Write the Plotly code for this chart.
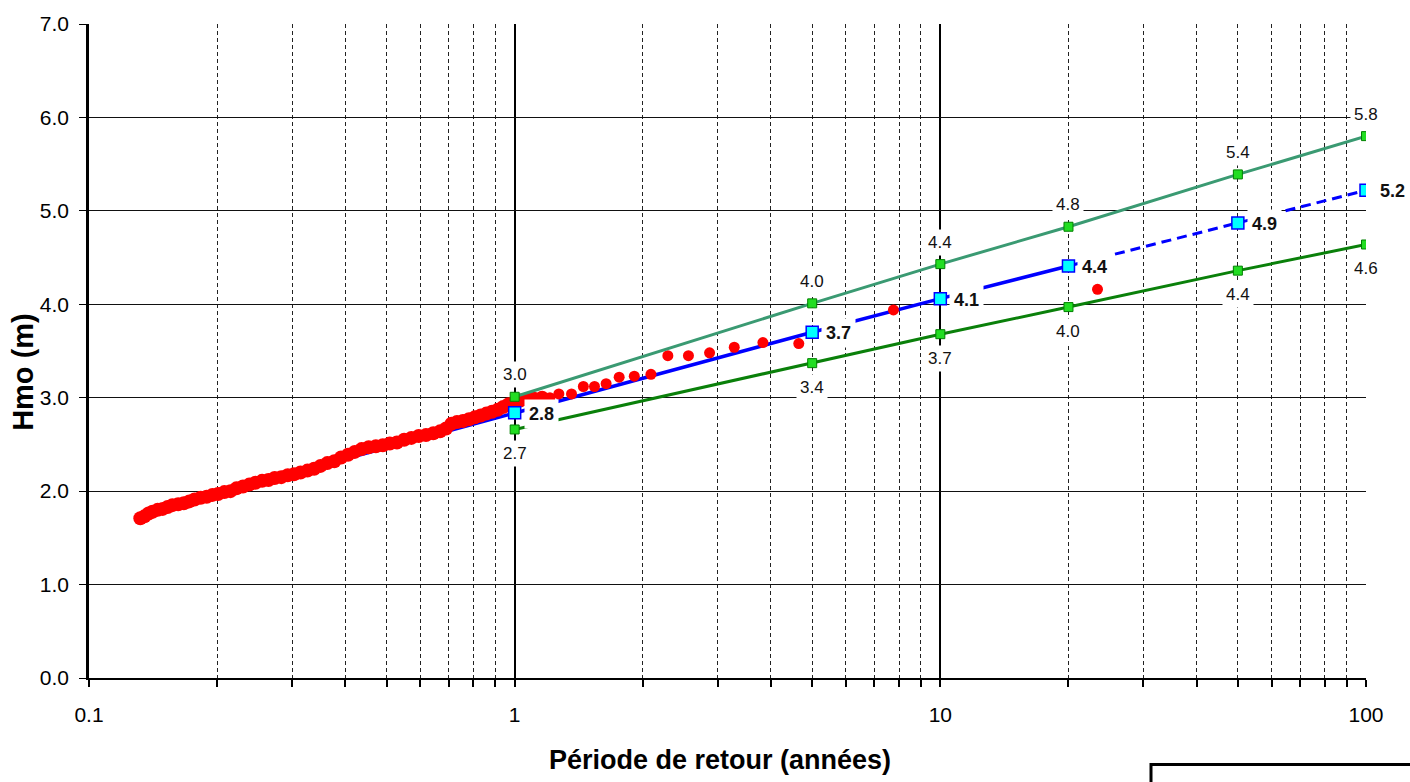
import math
import plotly.graph_objects as go

# ---- data ----
# empirical return periods (years) and observed Hmo (m)
obs_T = [0.132, 0.135, 0.138, 0.141, 0.145, 0.149, 0.153, 0.157, 0.162, 0.167,
         0.172, 0.177, 0.183, 0.189, 0.195, 0.201, 0.208, 0.215, 0.222, 0.230,
         0.238, 0.246, 0.255, 0.264, 0.273, 0.283, 0.293, 0.303, 0.314, 0.326,
         0.338, 0.350, 0.363, 0.377, 0.391, 0.406, 0.421, 0.437, 0.454, 0.472,
         0.490, 0.509, 0.529, 0.550, 0.572, 0.595, 0.619, 0.644, 0.668, 0.690,
         0.710, 0.732, 0.756, 0.781, 0.806, 0.832, 0.858, 0.885, 0.912, 0.940,
         0.968, 0.997, 1.03, 1.07, 1.11, 1.16]
obs_H = [1.71, 1.73, 1.76, 1.78, 1.80, 1.81, 1.83, 1.85, 1.86, 1.87,
         1.89, 1.91, 1.93, 1.94, 1.96, 1.97, 1.99, 2.00, 2.03, 2.05,
         2.07, 2.09, 2.11, 2.12, 2.14, 2.15, 2.17, 2.18, 2.20, 2.22,
         2.24, 2.27, 2.30, 2.32, 2.36, 2.39, 2.42, 2.45, 2.47, 2.48,
         2.49, 2.51, 2.52, 2.55, 2.57, 2.59, 2.60, 2.62, 2.64, 2.67,
         2.72, 2.74, 2.75, 2.77, 2.79, 2.81, 2.83, 2.85, 2.87, 2.90,
         2.93, 2.95, 2.97, 2.98, 2.99, 3.00]
# sparse largest observations
obs_T_top = [1.21, 1.27, 1.36, 1.45, 1.54, 1.64, 1.76, 1.91, 2.09, 2.29,
             2.56, 2.87, 3.28, 3.83, 4.65, 7.76, 23.4]
obs_H_top = [3.00, 3.04, 3.04, 3.12, 3.12, 3.15, 3.22, 3.23, 3.25, 3.45,
             3.45, 3.48, 3.54, 3.59, 3.58, 3.94, 4.16]

# fitted return levels
ret_T = [1, 5, 10, 20, 50, 100]
fit_H = [2.84, 3.70, 4.06, 4.41, 4.87, 5.22]
upper_H = [3.01, 4.01, 4.43, 4.83, 5.39, 5.80]
lower_H = [2.66, 3.37, 3.68, 3.97, 4.36, 4.64]

# fit curve over the observed range (solid) and extrapolation (dashed)
fit_solid_T = [0.3, 1, 5, 10, 20]
fit_solid_H = [2.19, 2.84, 3.70, 4.06, 4.41]
fit_dash_T = [20, 50, 100]
fit_dash_H = [4.41, 4.87, 5.22]

x_major = [0.1, 1, 10, 100]
x_major_text = ["0.1", "1", "10", "100"]
x_minor = [m * d for d in (0.1, 1, 10) for m in range(2, 10)]

FONT = "Liberation Sans, Arial, sans-serif"

fig = go.Figure()

fig.add_trace(go.Scatter(x=fit_solid_T, y=fit_solid_H, mode="lines",
                         line=dict(color="#0000FF", width=3.5), hoverinfo="skip"))
fig.add_trace(go.Scatter(x=fit_dash_T, y=fit_dash_H, mode="lines",
                         line=dict(color="#0000FF", width=3, dash="10px,6px"), hoverinfo="skip"))
fig.add_trace(go.Scatter(x=obs_T, y=obs_H, mode="markers",
                         marker=dict(color="#FF0000", size=14, line=dict(width=0))))
fig.add_trace(go.Scatter(x=obs_T_top, y=obs_H_top, mode="markers",
                         marker=dict(color="#FF0000", size=11, line=dict(width=0))))
fig.add_trace(go.Scatter(x=ret_T, y=upper_H, mode="lines+markers",
                         line=dict(color="#3A9A72", width=3),
                         marker=dict(symbol="square", size=9, color="#22DD22",
                                     line=dict(color="#008000", width=1))))
fig.add_trace(go.Scatter(x=ret_T, y=lower_H, mode="lines+markers",
                         line=dict(color="#0A800A", width=3),
                         marker=dict(symbol="square", size=9, color="#22DD22",
                                     line=dict(color="#008000", width=1))))
fig.add_trace(go.Scatter(x=ret_T, y=fit_H, mode="markers",
                         marker=dict(symbol="square", size=12, color="#00FFFF",
                                     line=dict(color="#0000FF", width=1.5))))

annotations = []
for t, h in zip(ret_T, upper_H):
    annotations.append(dict(x=math.log10(t), y=h, xref="x", yref="y", text=f"{h:.1f}",
                            showarrow=False, yshift=22, bgcolor="white", borderpad=3,
                            font=dict(family=FONT, size=17, color="#111")))
for t, h in zip(ret_T, lower_H):
    annotations.append(dict(x=math.log10(t), y=h, xref="x", yref="y", text=f"{h:.1f}",
                            showarrow=False, yshift=-24, bgcolor="white", borderpad=3,
                            font=dict(family=FONT, size=17, color="#111")))
for t, h in zip(ret_T, fit_H):
    annotations.append(dict(x=math.log10(t), y=h, xref="x", yref="y", text=f"<b>{h:.1f}</b>",
                            showarrow=False, xanchor="left", xshift=9, yshift=-1,
                            bgcolor="white", borderpad=4,
                            font=dict(family=FONT, size=18, color="#111")))

# axis titles
annotations.append(dict(text="<b>Période de retour (années)</b>", xref="paper", yref="paper",
                        x=(720 - 89) / 1277, y=(678 - 760) / 658, showarrow=False,
                        xanchor="center", yanchor="middle",
                        font=dict(family=FONT, size=27, color="black")))
annotations.append(dict(text="<b>Hmo (m)</b>", xref="paper", yref="paper",
                        x=(23 - 89) / 1277, y=(678 - 370) / 658, showarrow=False,
                        xanchor="center", yanchor="middle",
                        textangle=-90, font=dict(family=FONT, size=29, color="black")))

fig.update_layout(
    width=1410, height=782,
    margin=dict(l=89, r=44, t=20, b=104),
    paper_bgcolor="white", plot_bgcolor="white",
    showlegend=False,
    font=dict(family=FONT, size=21, color="black"),
    annotations=annotations,
    shapes=[dict(type="rect", xref="paper", yref="paper",
                 x0=(1151 - 89) / 1277, x1=1.2, y0=-0.3, y1=(678 - 765) / 658,
                 line=dict(color="black", width=3), fillcolor="rgba(0,0,0,0)")],
)

fig.update_xaxes(
    type="log", range=[-1, 2],
    tickmode="array", tickvals=x_major, ticktext=x_major_text,
    showgrid=True, gridcolor="black", gridwidth=1.5,
    showline=True, linecolor="black", linewidth=2,
    ticks="outside", ticklen=7, tickcolor="black", tickwidth=1.5,
    ticklabelstandoff=10,
    minor=dict(tickmode="array", tickvals=x_minor, showgrid=True, gridcolor="#222",
               griddash="4px,3px", gridwidth=1, ticks="outside", ticklen=7, tickcolor="black"),
    zeroline=False,
    tickfont=dict(family=FONT, size=21, color="black"),
)
fig.update_yaxes(
    range=[0, 7], dtick=1, tick0=0, tickformat=".1f",
    showgrid=True, gridcolor="#111", gridwidth=1.2,
    showline=True, linecolor="black", linewidth=2.5,
    ticks="outside", ticklen=7, tickcolor="black",
    ticklabelstandoff=6,
    zeroline=False,
    tickfont=dict(family=FONT, size=21, color="black"),
)

fig.write_html("out.html")
